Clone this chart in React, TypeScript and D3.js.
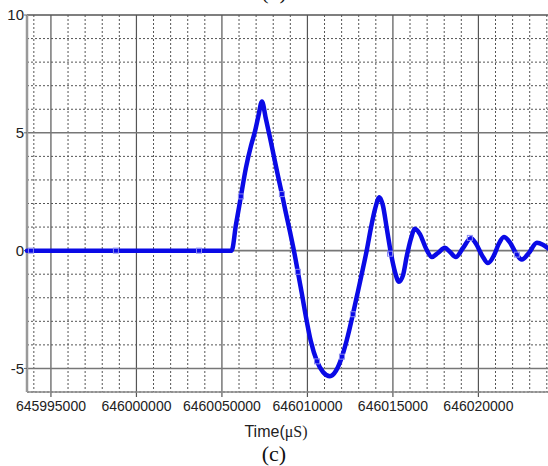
import React from "react";
import * as d3 from "d3";

// waveform samples: time in microseconds, amplitude
const times = [
  645993600, 646005570, 646005820, 646006110, 646006400, 646006700, 646006930,
  646007130, 646007340, 646007570, 646007810, 646008040, 646008270, 646008510,
  646008740, 646008980, 646009210, 646009440, 646009680, 646009910, 646010200,
  646010560, 646010910, 646011320, 646011670, 646012020, 646012370, 646012660,
  646012950, 646013190, 646013480, 646013710, 646013950, 646014210, 646014420,
  646014650, 646014880, 646015120, 646015350, 646015590, 646015820, 646016050,
  646016290, 646016580, 646016930, 646017280, 646017630, 646018040, 646018330,
  646018680, 646019090, 646019560, 646019850, 646020210, 646020560, 646020910,
  646021200, 646021490, 646021840, 646022190, 646022540, 646022950, 646023420,
  646023770, 646024070,
];
const amplitudes = [
  0, 0, 1.1, 2.3, 3.5, 4.45, 5.05, 5.7, 6.33, 5.6, 4.8, 4.0, 3.2, 2.4, 1.6,
  0.8, 0, -0.9, -1.85, -2.8, -3.85, -4.7, -5.15, -5.33, -5.1, -4.5, -3.6, -2.7,
  -1.75, -0.95, 0.05, 0.95, 1.75, 2.27, 1.9, 0.9, -0.1, -0.9, -1.32, -1.05, -0.2,
  0.5, 0.93, 0.7, 0.1, -0.27, -0.1, 0.12, -0.05, -0.27, 0.1, 0.52, 0.3, -0.2,
  -0.53, -0.2, 0.3, 0.58, 0.35, -0.1, -0.38, -0.1, 0.33, 0.25, 0.1,
];

// sample markers visible on the trace
const markerTimes = [
  645993830, 645998800, 646003660, 646006110, 646008510, 646009440, 646010560,
  646012020, 646012660, 646014830, 646019500, 646022250,
];
const markerValues = [0, 0, 0, 2.3, 2.4, -0.9, -4.7, -4.5, -2.7, -0.13, 0.54, -0.17];

const xTickValues = [645995000, 646000000, 646005000, 646010000, 646015000, 646020000];
const xTickLabels = ["645995000", "646000000", "6460050000", "646010000", "646015000", "646020000"];
const yTickValues = [10, 5, 0, -5];

const W = 548;
const H = 466;
const plot = { left: 27, right: 548, top: 15, bottom: 392 };

export default function App() {
  const x = d3.scaleLinear().domain([645993600, 646024070]).range([plot.left, plot.right]);
  const y = d3.scaleLinear().domain([-6, 10]).range([plot.bottom, plot.top]);

  const minorX = d3.range(645994000, 646024070, 1000).filter((t) => (t - 645995000) % 5000 !== 0);
  const minorY = d3.range(-6, 10, 1).filter((v) => v % 5 !== 0);

  const pts: [number, number][] = times.map((t, i) => [t, amplitudes[i]]);
  const line = d3
    .line<[number, number]>()
    .x((d) => x(d[0]))
    .y((d) => y(d[1]))
    .curve(d3.curveMonotoneX);

  const sans = "'Liberation Sans', Arial, sans-serif";
  const serif = "'Liberation Serif', 'Times New Roman', serif";

  return (
    <svg
      width={W}
      height={H}
      style={{ position: "absolute", left: 0, top: 0, background: "#fff" }}
    >
      <rect x={0} y={0} width={W} height={H} fill="#fff" />
      <text x={274} y={-1} textAnchor="middle" fontFamily={serif} fontSize={22} fill="#111">
        (b)
      </text>

      {/* dotted grid */}
      {minorX.map((t) => (
        <line key={"vx" + t} x1={x(t)} x2={x(t)} y1={plot.top} y2={plot.bottom}
          stroke="#555" strokeWidth={1} strokeDasharray="2,2" />
      ))}
      {minorY.map((v) => (
        <line key={"hy" + v} x1={plot.left} x2={plot.right} y1={y(v)} y2={y(v)}
          stroke="#555" strokeWidth={1} strokeDasharray="2,2" />
      ))}

      {/* solid grid */}
      {xTickValues.map((t) => (
        <line key={"sx" + t} x1={x(t)} x2={x(t)} y1={plot.top} y2={plot.bottom + 5}
          stroke="#555" strokeWidth={1.2} />
      ))}
      {[5, 0, -5].map((v) => (
        <line key={"sy" + v} x1={plot.left} x2={plot.right} y1={y(v)} y2={y(v)}
          stroke="#777" strokeWidth={1.6} />
      ))}

      {/* frame */}
      <line x1={plot.left} x2={plot.right} y1={plot.top} y2={plot.top} stroke="#555" strokeWidth={1.5} />
      <line x1={plot.left} x2={plot.right} y1={plot.bottom} y2={plot.bottom} stroke="#888" strokeWidth={1.5} />
      <line x1={plot.left} x2={plot.left} y1={plot.top} y2={plot.bottom} stroke="#999" strokeWidth={2.5} />

      {/* y ticks */}
      {yTickValues.map((v) => (
        <g key={"yt" + v}>
          <line x1={plot.left - 3} x2={plot.left} y1={y(v)} y2={y(v)} stroke="#666" strokeWidth={1} />
          <text x={plot.left - 3} y={y(v)} dy="0.36em" textAnchor="end"
            fontFamily={sans} fontSize={15} fill="#222">
            {v}
          </text>
        </g>
      ))}

      {/* x tick labels */}
      {xTickValues.map((t, i) => (
        <text key={"xl" + t} x={x(t)} y={411} textAnchor="middle"
          fontFamily={sans} fontSize={14} fill="#222">
          {xTickLabels[i]}
        </text>
      ))}

      {/* trace */}
      <path d={line(pts) ?? ""} fill="none" stroke="#0a0ae6" strokeWidth={4.5}
        strokeLinejoin="round" strokeLinecap="round" />
      {markerTimes.map((t, i) => (
        <rect key={"m" + t} x={x(t) - 2.5} y={y(markerValues[i]) - 2.5} width={5} height={5}
          fill="none" stroke="#8a8af0" strokeWidth={1} />
      ))}

      <text x={276} y={437} textAnchor="middle" fontSize={16} fill="#222">
        <tspan fontFamily={sans}>Time(</tspan>
        <tspan fontFamily={serif}>μS)</tspan>
      </text>
      <text x={274} y={461} textAnchor="middle" fontFamily={serif} fontSize={22} fill="#111">
        (c)
      </text>
    </svg>
  );
}
